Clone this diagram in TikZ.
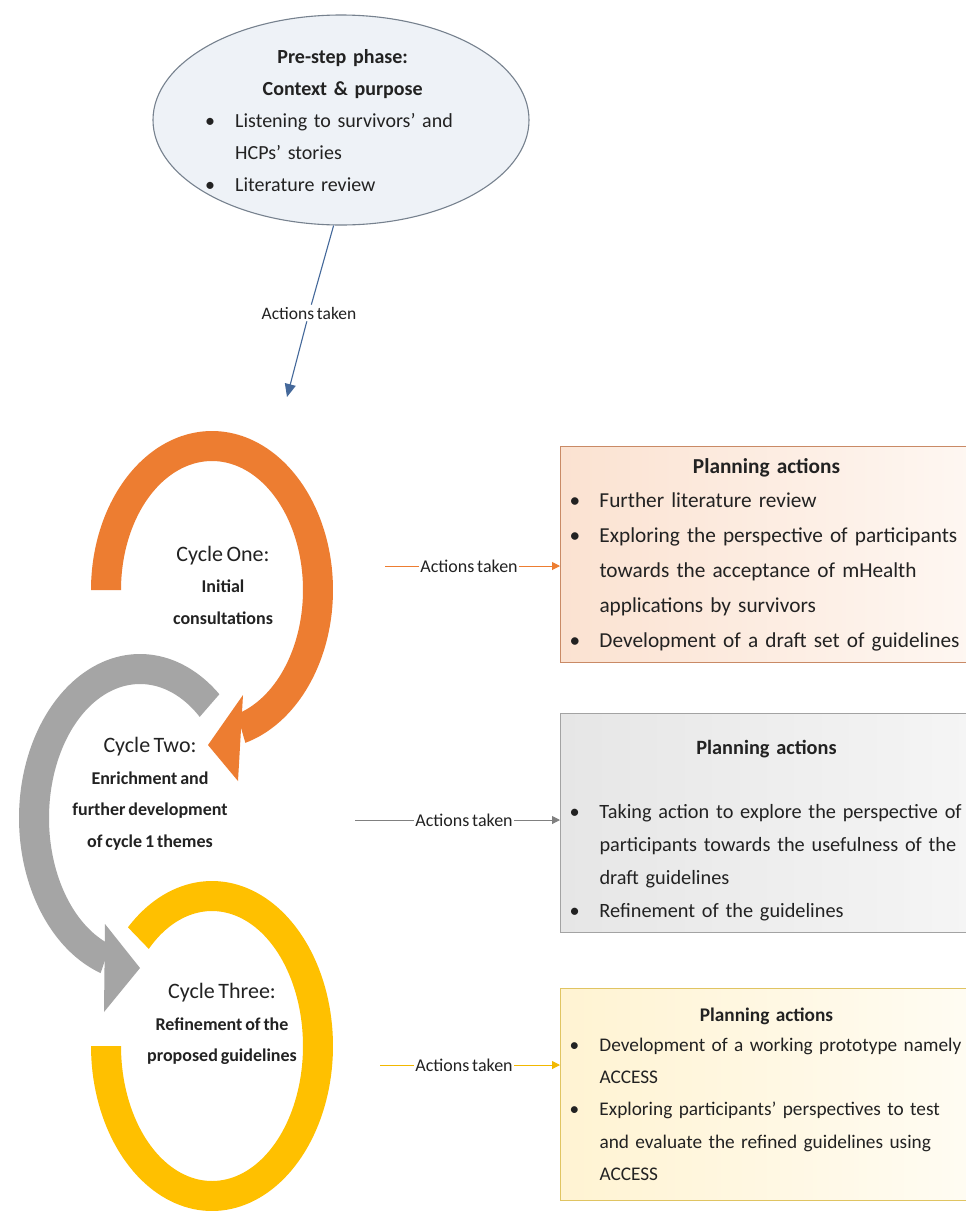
\documentclass[tikz,border=0pt]{standalone}
\usepackage{fontspec}
\setmainfont{Carlito}[WordSpace=0.7]
\usetikzlibrary{shapes.geometric,arrows.meta,calc}

\definecolor{ringorange}{HTML}{ED7D31}
\definecolor{ringgray}{HTML}{A5A5A5}
\definecolor{ringyellow}{HTML}{FFC000}
\definecolor{inkdark}{HTML}{222222}
\definecolor{ovalfill}{HTML}{EEF2F7}
\definecolor{ovaledge}{HTML}{76818E}
\definecolor{flowblue}{HTML}{44689A}
\definecolor{linkgray}{HTML}{808080}
\definecolor{linkyellow}{HTML}{F2B800}
\definecolor{peachA}{HTML}{FBE2D1}
\definecolor{peachB}{HTML}{FEF7F2}
\definecolor{peachEdge}{HTML}{C98A66}
\definecolor{greyA}{HTML}{E6E6E6}
\definecolor{greyB}{HTML}{F5F5F5}
\definecolor{greyEdge}{HTML}{A3A3A3}
\definecolor{creamA}{HTML}{FFF3D2}
\definecolor{creamB}{HTML}{FFFCF3}
\definecolor{creamEdge}{HTML}{E0C462}

% thick elliptical band: colour, cx, cy, rx, ry, from-angle, to-angle
\newcommand\ringband[7]{%
  \fill[#1] plot[domain=#6:#7,samples=140] ({#2+(#4+15)*cos(\x)},{#3+(#5+15)*sin(\x)})
    -- plot[domain=#7:#6,samples=140] ({#2+(#4-15)*cos(\x)},{#3+(#5-15)*sin(\x)}) -- cycle;}

% bullet line and its continuation lines
\newcommand\bitem[1]{\par\noindent\makebox[30pt][l]{\textbullet}\mbox{#1}}
\newcommand\bmore[1]{\par\noindent\hspace*{30pt}\mbox{#1}}

\begin{document}
\begin{tikzpicture}[x=1pt,y=-1pt,
  every node/.style={text=inkdark},
  ovalstyle/.style={ellipse, draw=ovaledge, line width=1.1pt, fill=ovalfill,
    minimum width=376pt, minimum height=210pt, inner sep=0pt},
  ovaltext/.style={text width=275pt, inner sep=0pt, anchor=west, align=left,
    font=\fontsize{20}{32}\selectfont},
  cycletext/.style={align=center, inner sep=0pt, font=\fontsize{18}{31.5}\selectfont\bfseries},
  flowlabel/.style={inner xsep=1.5pt, inner ysep=2pt, font=\fontsize{18}{20}\selectfont},
  planbox/.style={rectangle, line width=1pt, text width=394pt, inner xsep=9pt,
    inner ysep=0pt, align=left, anchor=west},
  flowhead/.style={-{Triangle[length=8pt,width=8pt]}},
]
\useasboundingbox (0,0) rectangle (966,1211);
\fill[white] (0,0) rectangle (966,1211);

% pre-step oval
\node[ovalstyle] (prestep) at (341,120) {};
\node[ovaltext] (prestepText) at (205,121) {%
  \makebox[275pt][c]{\bfseries Pre-step phase:}\par\noindent
  \makebox[275pt][c]{\bfseries Context \& purpose}
  \bitem{Listening to survivors’ and}
  \bmore{HCPs’ stories}
  \bitem{Literature review}};

% link from the oval down to the cycles
\node[flowlabel, font=\fontsize{17.5}{20}\selectfont] (topLabel) at (309,313) {Actions taken};
\coordinate (cycleEntry) at (287,397);
\draw[flowblue, line width=1.1pt] (prestep.266) -- (topLabel);
\draw[flowblue, line width=1.1pt, -{Triangle[length=13pt,width=11pt]}] (topLabel) -- (cycleEntry);

% the three cycles
\ringband{ringyellow}{212}{1046}{106}{150}{226}{540}
\ringband{ringgray}{140}{818}{106}{149}{109}{311}
\fill[ringgray] (105,924) -- (140,968) -- (104,1012) -- cycle;
\ringband{ringorange}{212}{590}{106}{144}{180}{434}
\fill[ringorange] (243,695) -- (208,745) -- (238,781) -- cycle;

\node[cycletext] (cycleOne) at (223,585) {{\fontsize{22}{31.5}\selectfont\mdseries Cycle One:}\\Initial\\consultations};
\node[cycletext] (cycleTwo) at (150,794) {{\fontsize{22}{31.5}\selectfont\mdseries Cycle Two:}\\Enrichment and\\further development\\of cycle 1 themes};
\node[cycletext] (cycleThree) at (222,1024) {{\fontsize{22}{31.5}\selectfont\mdseries Cycle Three:}\\Refinement of the\\proposed guidelines};

% planning boxes
\node[planbox, left color=peachA, right color=peachB, draw=peachEdge,
  minimum height=216pt, font=\fontsize{21.3}{34.8}\selectfont] (planOne) at (560,554.5) {%
  \centerline{\bfseries Planning actions}
  \bitem{Further literature review}
  \bitem{Exploring the perspective of participants}
  \bmore{towards the acceptance of mHealth}
  \bmore{applications by survivors}
  \bitem{Development of a draft set of guidelines}};

\node[planbox, left color=greyA, right color=greyB, draw=greyEdge,
  minimum height=219pt, font=\fontsize{20.3}{33}\selectfont] (planTwo) at (560,822.5) {%
  \centerline{\bfseries Planning actions}\vskip 31pt
  \bitem{Taking action to explore the perspective of}
  \bmore{participants towards the usefulness of the}
  \bmore{draft guidelines}
  \bitem{Refinement of the guidelines}\par\kern-16pt\nointerlineskip\hbox{}};

\node[planbox, left color=creamA, right color=creamB, draw=creamEdge,
  minimum height=212pt, font=\fontsize{19.3}{32.2}\selectfont] (planThree) at (560,1094) {%
  \centerline{\bfseries Planning actions}\vskip -2pt
  \bitem{Development of a working prototype namely}
  \bmore{ACCESS}
  \bitem{Exploring participants’ perspectives to test}
  \bmore{and evaluate the refined guidelines using}
  \bmore{ACCESS}};

% "Actions taken" links into the boxes
\coordinate (linkOneStart) at (385,566);
\node[flowlabel] (linkOne) at (469,566) {Actions taken};
\draw[ringorange, line width=1pt] (linkOneStart) -- (linkOne);
\draw[ringorange, line width=1pt, flowhead] (linkOne.east) -- (linkOne.east -| planOne.west);

\coordinate (linkTwoStart) at (355,820);
\node[flowlabel] (linkTwo) at (464,820) {Actions taken};
\draw[linkgray, line width=1pt] (linkTwoStart) -- (linkTwo);
\draw[linkgray, line width=1pt, flowhead] (linkTwo.east) -- (linkTwo.east -| planTwo.west);

\coordinate (linkThreeStart) at (380,1065);
\node[flowlabel] (linkThree) at (464,1065) {Actions taken};
\draw[linkyellow, line width=1pt] (linkThreeStart) -- (linkThree);
\draw[linkyellow, line width=1pt, flowhead] (linkThree.east) -- (linkThree.east -| planThree.west);
\end{tikzpicture}
\end{document}
